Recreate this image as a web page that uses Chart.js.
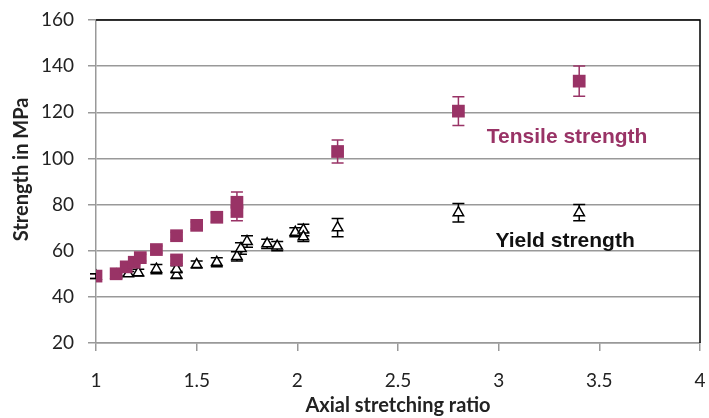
<!DOCTYPE html>
<html lang="en">
<head>
    <meta charset="UTF-8">
    <title>Strength vs axial stretching ratio</title>
    <script src="https://cdn.jsdelivr.net/npm/chart.js"></script>
    <style>
        html, body { margin: 0; padding: 0; background: #ffffff; overflow: hidden; }
        #wrap { position: relative; width: 709px; height: 418px; overflow: hidden; }
        #wrap canvas { display: block; }
    </style>
</head>
<body>
    <div id="wrap"><canvas id="strengthChart"></canvas></div>
    <script>
        // Tensile strength (MPa) vs axial stretching ratio
        const tensileX = [1.0, 1.1, 1.15, 1.19, 1.22, 1.3, 1.4, 1.4, 1.5, 1.6, 1.7, 1.7, 2.2, 2.8, 3.4];
        const tensileY = [49, 50, 53, 55, 57, 60.5, 66.5, 56, 71, 74.5, 77, 81, 103, 120.5, 133.5];
        const tensileErr = [1, 1, 1, 1, 1.5, 1.5, 1.5, 1.5, 1.5, 2, 4, 4.5, 5, 6.2, 6.6];

        // Yield strength (MPa)
        const yieldX = [1.0, 1.1, 1.16, 1.21, 1.3, 1.4, 1.4, 1.5, 1.6, 1.7, 1.72, 1.75, 1.85, 1.9, 1.99, 2.03, 2.03, 2.2, 2.8, 3.4];
        const yieldY = [49, 49.5, 50, 50.5, 52, 49.5, 52, 54, 55, 57.5, 61, 64, 63, 62, 68, 69, 66, 70, 76.5, 76.5];
        const yieldErr = [1, 1, 1, 1.5, 2, 1.5, 1.5, 1.5, 2, 2, 2.5, 2.5, 2, 2, 2, 2.5, 2, 4, 4, 3.5];

        const yTicks = [20, 40, 60, 80, 100, 120, 140, 160];
        const xTicks = [1, 1.5, 2, 2.5, 3, 3.5, 4];

        const seriesLabels = ['Tensile strength', 'Yield strength'];
        const labelPos = [[3.34, 109], [3.33, 64]];

        const plum = '#993366';

        function toPoints(xs, ys) {
            return xs.map((x, i) => ({ x: x, y: ys[i] }));
        }

        // vertical error bars with caps, drawn under the markers
        const errorBars = {
            id: 'errorBars',
            beforeDatasetsDraw(chart) {
                const ctx = chart.ctx;
                const xs = chart.scales.x, ys = chart.scales.y;
                const sets = [
                    { x: tensileX, y: tensileY, e: tensileErr, c: plum },
                    { x: yieldX, y: yieldY, e: yieldErr, c: '#000000' }
                ];
                ctx.save();
                ctx.lineWidth = 1.5;
                sets.forEach(s => {
                    ctx.strokeStyle = s.c;
                    s.x.forEach((xv, i) => {
                        const px = xs.getPixelForValue(xv);
                        const top = ys.getPixelForValue(s.y[i] + s.e[i]);
                        const bot = ys.getPixelForValue(s.y[i] - s.e[i]);
                        ctx.beginPath();
                        ctx.moveTo(px, top); ctx.lineTo(px, bot);
                        ctx.moveTo(px - 6, top); ctx.lineTo(px + 6, top);
                        ctx.moveTo(px - 6, bot); ctx.lineTo(px + 6, bot);
                        ctx.stroke();
                    });
                });
                ctx.restore();
            }
        };

        // black frame on top and right, plus the two series labels
        const frameAndLabels = {
            id: 'frameAndLabels',
            afterDraw(chart) {
                const ctx = chart.ctx;
                const a = chart.chartArea;
                ctx.save();
                ctx.strokeStyle = '#000000';
                ctx.lineWidth = 1.5;
                ctx.beginPath();
                ctx.moveTo(a.left, a.top);
                ctx.lineTo(a.right, a.top);
                ctx.lineTo(a.right, a.bottom);
                ctx.stroke();

                ctx.font = 'bold 21px "Liberation Sans", Arial, sans-serif';
                ctx.textAlign = 'center';
                ctx.textBaseline = 'middle';
                const colors = [plum, '#111111'];
                seriesLabels.forEach((t, i) => {
                    ctx.fillStyle = colors[i];
                    ctx.fillText(t, chart.scales.x.getPixelForValue(labelPos[i][0]),
                        chart.scales.y.getPixelForValue(labelPos[i][1]));
                });
                ctx.restore();
            }
        };

        const ctx = document.getElementById('strengthChart').getContext('2d');
        const strengthChart = new Chart(ctx, {
            type: 'scatter',
            data: {
                datasets: [{
                    label: seriesLabels[0],
                    data: toPoints(tensileX, tensileY),
                    pointStyle: 'rect',
                    pointRadius: 9,
                    pointHoverRadius: 9,
                    backgroundColor: plum,
                    borderColor: plum,
                    borderWidth: 0
                }, {
                    label: seriesLabels[1],
                    data: toPoints(yieldX, yieldY),
                    pointStyle: 'triangle',
                    pointRadius: 6,
                    pointHoverRadius: 6,
                    backgroundColor: '#ffffff',
                    borderColor: '#000000',
                    borderWidth: 1.5
                }]
            },
            options: {
                responsive: true,
                maintainAspectRatio: false,
                animation: false,
                layout: { padding: { left: 6, right: 6, top: 20, bottom: 0 } },
                plugins: {
                    legend: { display: false },
                    tooltip: { enabled: false }
                },
                scales: {
                    x: {
                        type: 'linear',
                        min: 1,
                        max: 4,
                        afterBuildTicks(axis) { axis.ticks = xTicks.map(v => ({ value: v })); },
                        afterFit(axis) {
                            axis.height = 75;
                            axis.paddingLeft = 0;
                            axis.paddingRight = 0;
                        },
                        border: { color: '#999999', width: 1.5 },
                        grid: { drawOnChartArea: false, color: '#999999', lineWidth: 1.5, tickLength: 8 },
                        ticks: {
                            color: '#222222',
                            padding: 18,
                            font: { family: 'Lato', size: 19 },
                            maxRotation: 0,
                            callback: v => String(v)
                        },
                        title: {
                            display: true,
                            text: 'Axial stretching ratio',
                            color: '#222222',
                            font: { family: 'Lato', size: 20, weight: 'bold' },
                            padding: { top: 0, bottom: 0 }
                        }
                    },
                    y: {
                        min: 20,
                        max: 160,
                        afterBuildTicks(axis) { axis.ticks = yTicks.map(v => ({ value: v })); },
                        afterFit(axis) {
                            axis.width = 90;
                            axis.paddingTop = 0;
                            axis.paddingBottom = 0;
                        },
                        border: { color: '#999999', width: 1.5 },
                        grid: { color: '#999999', lineWidth: 1.5, tickLength: 8 },
                        ticks: {
                            color: '#222222',
                            padding: 14,
                            font: { family: 'Lato', size: 19 }
                        },
                        title: {
                            display: true,
                            // leading spaces nudge the title up a little, as in the original
                            text: '     Strength in MPa',
                            color: '#222222',
                            font: { family: 'Lato', size: 20, weight: 'bold' },
                            padding: { top: 4, bottom: 0 }
                        }
                    }
                }
            },
            plugins: [errorBars, frameAndLabels]
        });
    </script>
</body>
</html>
